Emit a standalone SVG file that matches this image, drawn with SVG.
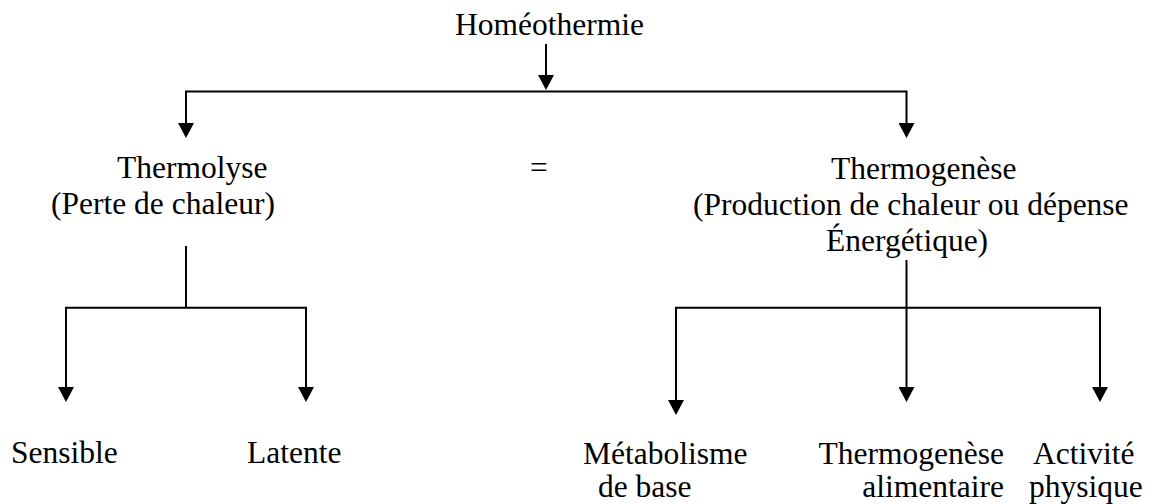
<svg xmlns="http://www.w3.org/2000/svg" width="1159" height="504" viewBox="0 0 1159 504">
<style>
text { font-family: "Liberation Serif", "Times New Roman", serif; font-size: 31.5px; fill: #000; }
.c { fill: none; stroke: #000; stroke-width: 2; }
</style>
<defs>
<marker id="ah" viewBox="0 0 15 16" refX="1" refY="8" markerWidth="15" markerHeight="16" markerUnits="userSpaceOnUse" orient="auto">
<path d="M0,0 L15,8 L0,16 z" fill="#000"/>
</marker>
</defs>
<rect width="1159" height="504" fill="#fff"/>
<g id="connectors">
<line class="c" x1="546" y1="44" x2="546" y2="76" marker-end="url(#ah)"/>
<polyline class="c" points="186,124 186,91.5 906.5,91.5 906.5,124" marker-end="url(#ah)"/>
<line class="c" x1="186" y1="91.5" x2="186" y2="124" marker-end="url(#ah)"/>
<line class="c" x1="186" y1="246" x2="186" y2="307.7"/>
<polyline class="c" points="66,388 66,307.7 306,307.7 306,388" marker-end="url(#ah)"/>
<line class="c" x1="66" y1="307.7" x2="66" y2="388" marker-end="url(#ah)"/>
<line class="c" x1="906.5" y1="260" x2="906.5" y2="388" marker-end="url(#ah)"/>
<polyline class="c" points="676,401 676,307.7 1100,307.7 1100,388" marker-end="url(#ah)"/>
<line class="c" x1="676" y1="307.7" x2="676" y2="401" marker-end="url(#ah)"/>
</g>
<g id="homeothermie"><text x="455" y="35">Homéothermie</text></g>
<g id="thermolyse">
<text x="117" y="178">Thermolyse</text>
<text x="51" y="214">(Perte de chaleur)</text>
</g>
<g id="egal"><text x="530" y="178">=</text></g>
<g id="thermogenese">
<text x="831" y="179">Thermogenèse</text>
<text x="693" y="215">(Production de chaleur ou dépense</text>
<text x="826" y="251">Énergétique)</text>
</g>
<g id="sensible"><text x="11" y="463">Sensible</text></g>
<g id="latente"><text x="247" y="463">Latente</text></g>
<g id="metabolisme">
<text x="583" y="464">Métabolisme</text>
<text x="598" y="497">de base</text>
</g>
<g id="thermogenese-alimentaire">
<text x="1004" y="464" text-anchor="end">Thermogenèse</text>
<text x="1004" y="497" text-anchor="end">alimentaire</text>
</g>
<g id="activite">
<text x="1033" y="464">Activité</text>
<text x="1029" y="497">physique</text>
</g>
</svg>
